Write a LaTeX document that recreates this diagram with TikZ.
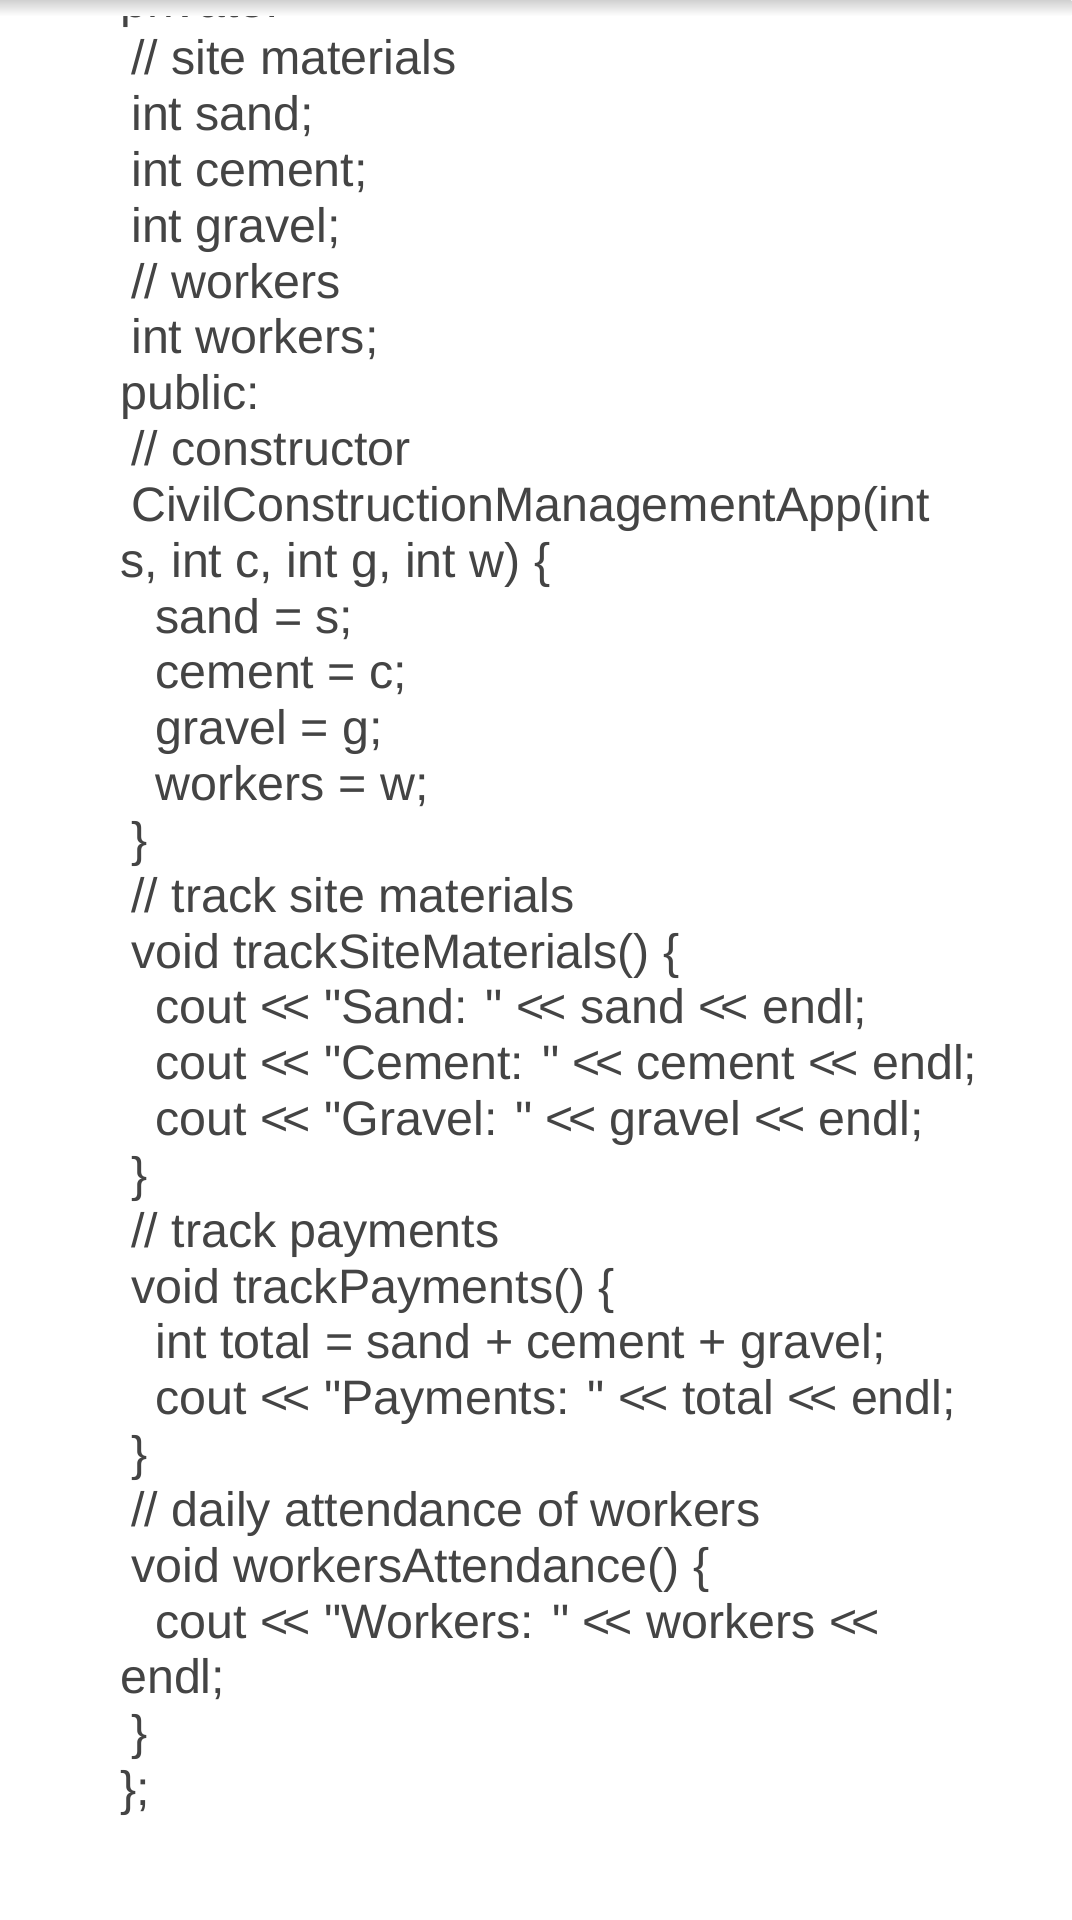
\documentclass[tikz,border=0pt]{standalone}
\usepackage{fontspec}
\setmainfont{Liberation Sans}[Ligatures=TeXOff]
\definecolor{code}{HTML}{444444}
\newcommand{\LL}{<\kern-5pt<}
\newcommand{\Q}{\symbol{34}}
\begin{document}
\begin{tikzpicture}[x=1pt,y=-1pt,
  ln/.style={anchor=base west,inner sep=0pt,text=code,font=\fontsize{39.5}{44}\selectfont}]
\useasboundingbox (0,0) rectangle (875,1568);
\clip (0,0) rectangle (875,1568);
\fill[white] (0,0) rectangle (875,1568);
\node[ln] (l1) at (98,14) {private:};
\shade[top color=black!18,bottom color=white] (0,0) rectangle (875,13);
\def\B#1{\fpeval{61+45.6*(#1)}}
\node[ln] (l2) at (107,\B{0}) {// site materials};
\node[ln] (l3) at (107,\B{1}) {int sand;};
\node[ln] (l4) at (107,\B{2}) {int cement;};
\node[ln] (l5) at (107,\B{3}) {int gravel;};
\node[ln] (l6) at (107,\B{4}) {// workers};
\node[ln] (l7) at (107,\B{5}) {int workers;};
\node[ln] (l8) at (98,\B{6}) {public:};
\node[ln] (l9) at (107,\B{7}) {// constructor};
\node[ln] (l10) at (107,\B{8}) {CivilConstructionManagementApp(int};
\node[ln] (l11) at (98,\B{9}) {s, int c, int g, int w) \{};
\node[ln] (l12) at (127,\B{10}) {sand = s;};
\node[ln] (l13) at (127,\B{11}) {cement = c;};
\node[ln] (l14) at (127,\B{12}) {gravel = g;};
\node[ln] (l15) at (127,\B{13}) {workers = w;};
\node[ln] (l16) at (107,\B{14}) {\}};
\node[ln] (l17) at (107,\B{15}) {// track site materials};
\node[ln] (l18) at (107,\B{16}) {void trackSiteMaterials() \{};
\node[ln] (l19) at (127,\B{17}) {cout \LL{} \Q Sand: \Q{} \LL{} sand \LL{} endl;};
\node[ln] (l20) at (127,\B{18}) {cout \LL{} \Q Cement: \Q{} \LL{} cement \LL{} endl;};
\node[ln] (l21) at (127,\B{19}) {cout \LL{} \Q Gravel: \Q{} \LL{} gravel \LL{} endl;};
\node[ln] (l22) at (107,\B{20}) {\}};
\node[ln] (l23) at (107,\B{21}) {// track payments};
\node[ln] (l24) at (107,\B{22}) {void trackPayments() \{};
\node[ln] (l25) at (127,\B{23}) {int total = sand + cement + gravel;};
\node[ln] (l26) at (127,\B{24}) {cout \LL{} \Q Payments: \Q{} \LL{} total \LL{} endl;};
\node[ln] (l27) at (107,\B{25}) {\}};
\node[ln] (l28) at (107,\B{26}) {// daily attendance of workers};
\node[ln] (l29) at (107,\B{27}) {void workersAttendance() \{};
\node[ln] (l30) at (127,\B{28}) {cout \LL{} \Q Workers: \Q{} \LL{} workers \LL};
\node[ln] (l31) at (98,\B{29}) {endl;};
\node[ln] (l32) at (107,\B{30}) {\}};
\node[ln] (l33) at (98,\B{31}) {\};};
\end{tikzpicture}
\end{document}
